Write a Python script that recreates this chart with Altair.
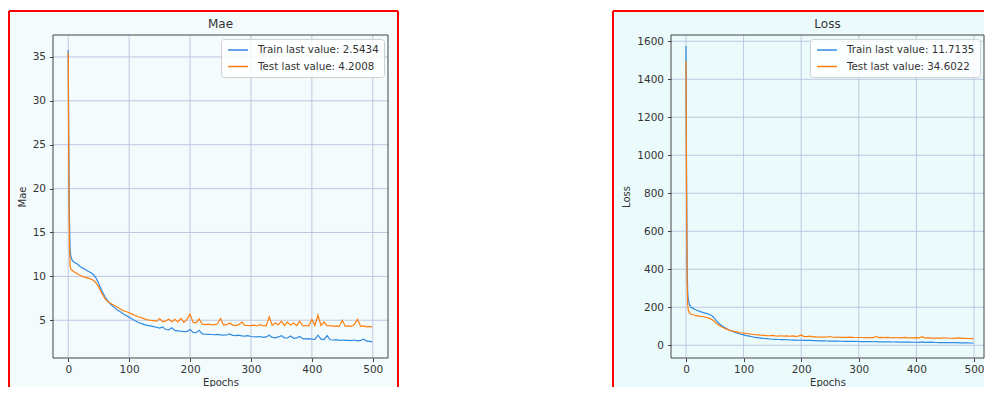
import altair as alt
import pandas as pd

# ---------------- data ----------------
early_epochs = [0, 1, 2, 3, 4, 6, 8, 10, 15, 20, 25, 30, 35, 40, 45, 50, 55, 60, 65, 70, 75, 80, 85, 90, 95]
late_epochs = list(range(100, 500, 5)) + [499]
epochs = early_epochs + late_epochs

mae_train = [35.8, 24.0, 16.5, 13.2, 12.4, 11.9, 11.7, 11.6, 11.4, 11.1, 10.9, 10.7, 10.5, 10.3, 9.9, 9.2, 8.4, 7.7, 7.2, 6.8, 6.5, 6.2, 6.0, 5.75, 5.55,
             5.35, 5.15, 4.95, 4.75, 4.65, 4.5, 4.42, 4.35, 4.28, 4.2, 4.1, 4.25, 3.95, 3.9, 4.15, 3.85, 3.8, 3.75, 3.7, 3.72,
             3.95, 3.62, 3.58, 3.85, 3.45, 3.42, 3.4, 3.38, 3.35, 3.4, 3.33, 3.3, 3.32, 3.45, 3.28, 3.25, 3.3, 3.22, 3.2, 3.25,
             3.15, 3.12, 3.1, 3.15, 3.05, 3.1, 3.3, 3.05, 3.0, 3.1, 3.25, 3.0, 2.98, 3.2, 2.95, 3.0, 3.15, 2.9, 2.88, 2.9,
             2.85, 2.82, 3.3, 2.85, 2.8, 3.25, 2.78, 2.75, 2.8, 2.72, 2.75, 2.7, 2.72, 2.68, 2.75, 2.65, 2.7, 2.85, 2.62, 2.6,
             2.54]
mae_test = [35.5, 21.0, 13.5, 11.3, 10.9, 10.7, 10.6, 10.5, 10.3, 10.1, 9.95, 9.85, 9.75, 9.6, 9.3, 8.8, 8.1, 7.5, 7.1, 6.9, 6.7, 6.5, 6.3, 6.1, 6.0,
            5.85, 5.7, 5.55, 5.4, 5.3, 5.15, 5.05, 5.0, 4.95, 4.9, 5.2, 4.85, 4.9, 5.15, 4.8, 5.1, 4.8, 5.2, 4.75, 5.1,
            5.7, 4.75, 4.7, 5.15, 4.55, 4.5, 4.55, 4.5, 4.48, 4.6, 5.2, 4.45, 4.5, 4.7, 4.45, 4.4, 4.5, 4.8, 4.42, 4.4,
            4.38, 4.45, 4.35, 4.5, 4.38, 4.35, 5.4, 4.4, 4.7, 4.5, 4.9, 4.4, 4.8, 4.45, 4.7, 4.4, 4.9, 4.35, 4.4, 4.35,
            5.1, 4.4, 5.6, 4.4, 4.8, 4.35, 4.4, 4.3, 4.35, 4.3, 5.0, 4.3, 4.35, 4.3, 4.55, 5.1, 4.3, 4.35, 4.25, 4.3,
            4.2]

loss_train = [1575, 900, 420, 280, 240, 215, 205, 198, 190, 183, 177, 172, 168, 163, 155, 140, 122, 108, 97, 88, 80, 74, 68, 63, 58,
              55, 51, 48, 45, 42, 40, 38, 36, 34.5, 33, 32, 31.5, 30.5, 30, 29.5, 29, 28, 27.5, 27, 26.5,
              27.5, 26, 25.5, 26.5, 24.5, 24, 23.5, 23, 22.8, 22.5, 22.2, 22, 21.8, 22.5, 21.2, 21, 20.8, 20.5, 20.2, 20,
              19.8, 19.5, 19.2, 19, 18.8, 18.5, 19.5, 18.2, 18, 17.8, 18.5, 17.5, 17.2, 17.8, 17, 16.8, 17.2, 16.5, 16.2, 16,
              15.8, 15.5, 17.5, 15.2, 15, 16.2, 14.8, 14.5, 14.3, 14.1, 14, 13.8, 13.6, 13.4, 13.5, 13, 12.8, 13.2, 12.3, 12.0,
              11.7]
loss_test = [1495, 800, 330, 215, 185, 172, 165, 162, 158, 155, 152, 150, 147, 143, 135, 124, 110, 100, 92, 85, 80, 76, 72, 69, 66,
             64, 62, 60, 58, 56, 54.5, 53, 52, 51, 50, 52, 49, 48.5, 50, 48, 49.5, 47.5, 49, 47, 48,
             54, 46, 45.5, 48, 44.5, 44, 43.5, 43, 42.8, 43.5, 46, 42.3, 42, 43.5, 41.8, 41.5, 42, 43, 41.2, 41,
             40.8, 41, 40.5, 41, 40.2, 40, 46, 40, 41.5, 40, 42, 39.5, 41, 39.5, 40.5, 39, 41, 38.8, 39, 38.6,
             40, 38.5, 45, 38.2, 40, 38, 38, 37.6, 37.5, 37.3, 39.5, 37, 37, 36.6, 37.5, 38.5, 36.2, 36, 35.5, 35.2,
             34.6]

mae_labels = ["Train last value: 2.5434", "Test last value: 4.2008"]
loss_labels = ["Train last value: 11.7135", "Test last value: 34.6022"]

x_ticks = [0, 100, 200, 300, 400, 500]
mae_ticks = [5, 10, 15, 20, 25, 30, 35]
loss_ticks = [0, 200, 400, 600, 800, 1000, 1200, 1400, 1600]

# ---------------- styling ----------------
BLUE = "#2f8ae2"
ORANGE = "#ff7f0e"
GRID = "#b9c2de"
FRAME = "#444444"
TXT = "#333333"
RED = "#ff0000"
H = 323
BOTTOM = H + 36


def panel(title, ylab, train, test, labels, xdom, ydom, yticks, W, bg, left_ext, right_ext, right_border):
    df = pd.DataFrame({
        "epoch": epochs + epochs,
        "value": train + test,
        "series": [labels[0]] * len(epochs) + [labels[1]] * len(epochs),
    })
    xs = alt.Scale(domain=xdom, nice=False, zero=False)
    ys = alt.Scale(domain=ydom, nice=False, zero=False)
    xax = alt.Axis(values=x_ticks, grid=False, domain=False, tickColor=FRAME, format="d",
                   tickSize=3.5, labelPadding=2.5, titlePadding=3, zindex=2)
    yax = alt.Axis(values=yticks, grid=False, domain=False, tickColor=FRAME, format="d",
                   tickSize=3.5, labelPadding=4, titlePadding=5, zindex=2)
    one = alt.Data(values=[{}])

    back = alt.Chart(one).mark_rect(fill=bg).encode(
        x=alt.value(-left_ext), x2=alt.value(W + right_ext),
        y=alt.value(-24), y2=alt.value(BOTTOM))
    borders = [
        alt.Chart(one).mark_rule(color=RED, strokeWidth=2).encode(
            x=alt.value(-left_ext), x2=alt.value(W + right_ext), y=alt.value(-24)),
        alt.Chart(one).mark_rule(color=RED, strokeWidth=2).encode(
            x=alt.value(-left_ext), y=alt.value(-24), y2=alt.value(BOTTOM)),
    ]
    if right_border:
        borders.append(alt.Chart(one).mark_rule(color=RED, strokeWidth=2).encode(
            x=alt.value(W + right_ext), y=alt.value(-24), y2=alt.value(BOTTOM)))

    title_txt = alt.Chart(one).mark_text(fontSize=12, color=TXT, baseline="middle", align="center").encode(
        x=alt.value(W / 2), y=alt.value(-11), text=alt.value(title))

    xgrid = alt.Chart(pd.DataFrame({"v": x_ticks})).mark_rule(color=GRID, strokeWidth=0.9).encode(
        x=alt.X("v:Q", scale=xs, title="Epochs", axis=xax))
    ygrid = alt.Chart(pd.DataFrame({"v": yticks})).mark_rule(color=GRID, strokeWidth=0.9).encode(
        y=alt.Y("v:Q", scale=ys, title=ylab, axis=yax))

    lines = alt.Chart(df).mark_line(strokeWidth=1.2, clip=True).encode(
        x=alt.X("epoch:Q", scale=xs, title="Epochs", axis=xax),
        y=alt.Y("value:Q", scale=ys, title=ylab, axis=yax),
        color=alt.Color("series:N", sort=labels,
                        scale=alt.Scale(domain=labels, range=[BLUE, ORANGE]),
                        legend=alt.Legend(title=None, orient="top-right", offset=4)),
    )

    frame = alt.Chart(one).mark_rect(fillOpacity=0, stroke=FRAME, strokeWidth=1).encode(
        x=alt.value(0), x2=alt.value(W), y=alt.value(0), y2=alt.value(H))

    return alt.layer(back, *borders, title_txt, xgrid, ygrid, lines, frame).properties(width=W, height=H)


left = panel("Mae", "Mae", mae_train, mae_test, mae_labels, [-25, 525], [0.7, 37.5], mae_ticks,
             335, "#f3fbfd", 44, 10, True)
right = panel("Loss", "Loss", loss_train, loss_test, loss_labels, [-26, 517.4], [-67, 1633], loss_ticks,
              313, "#ebfbfc", 58, 0, False)

chart = alt.hconcat(left, right, spacing=213).resolve_scale(color="independent").resolve_legend(
    color="independent"
).properties(
    padding={"left": 0, "top": 2, "right": 0, "bottom": -8}
).configure(font="DejaVu Sans").configure_view(stroke=None).configure_axis(
    labelFontSize=10.5, labelColor=TXT, titleFontSize=10, titleFontWeight="normal", titleColor=TXT,
).configure_legend(
    labelFontSize=10.3, labelColor=TXT, symbolType="M-2,0H2", symbolSize=100, symbolStrokeWidth=1.5,
    symbolOffset=6, fillColor="rgba(255,255,255,0.85)", strokeColor="#d0d0d0", cornerRadius=3,
    padding=5, rowPadding=4.5, labelOffset=14,
)

chart.save("out.html", embed_options={"renderer": "svg", "actions": False})
